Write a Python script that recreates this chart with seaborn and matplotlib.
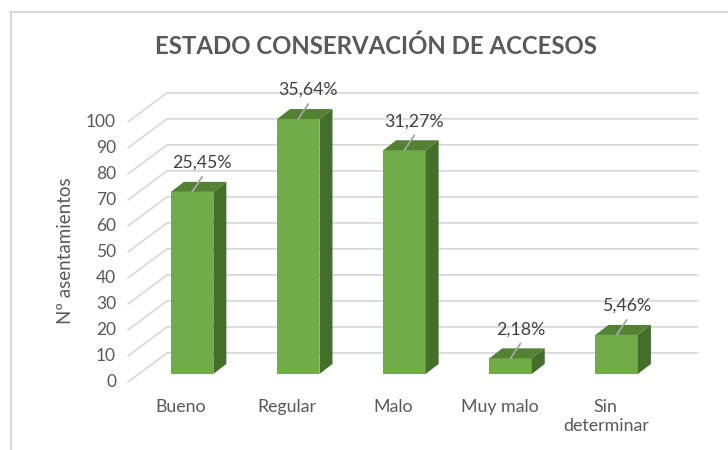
import matplotlib.pyplot as plt
import seaborn as sns
from matplotlib.lines import Line2D
from matplotlib.patches import Polygon

categorias = ['Bueno', 'Regular', 'Malo', 'Muy malo', 'Sin\ndeterminar']
asentamientos = [70, 98, 86, 6, 15]
porcentajes = ['25,45%', '35,64%', '31,27%', '2,18%', '5,46%']
ticks_y = list(range(0, 101, 10))

sns.set_theme(style='white')
plt.rcParams['font.family'] = ['Lato', 'DejaVu Sans']

gris = '#595959'
verde = '#70AD47'
verde_top = '#548235'
verde_lado = '#456E2A'

fig = plt.figure(figsize=(7.28, 4.5), dpi=100)
ax = fig.add_axes([0.191, 0.169, 0.729, 0.578])
sns.barplot(x=categorias, y=asentamientos, color=verde, saturation=1,
            width=0.4, ax=ax, zorder=3, linewidth=0)
ax.set_xlim(-0.5, 4.5)
ax.set_ylim(0, 100)
sns.despine(ax=ax, left=True, bottom=True)
ax.set_xticks([])
ax.set_yticks([])
ax.set_xlabel('')

# pixeles por unidad de datos, para el efecto 3D
sx = ax.transData.transform((1, 0))[0] - ax.transData.transform((0, 0))[0]
sy = ax.transData.transform((0, 1))[1] - ax.transData.transform((0, 0))[1]
frente = (-11 / sx, -8 / sy)
fondo = (28 / sx, 21 / sy)
prof = (13 / sx, 10 / sy)

x0, x1 = ax.get_xlim()
for v in ticks_y:
    ax.plot([x0 + frente[0], x0 + fondo[0], x1 + fondo[0]],
            [v + frente[1], v + fondo[1], v + fondo[1]],
            color='#D9D9D9', lw=1.3, zorder=1, clip_on=False)
    ax.text(x0 + frente[0] - 12 / sx, v + frente[1], str(v), ha='right',
            va='center', fontsize=12.5, color=gris)

for p, pct, cat in zip(ax.patches, porcentajes, categorias):
    xa = p.get_x()
    w = p.get_width()
    h = p.get_height()
    xc = xa + w / 2
    top = Polygon([(xa, h), (xa + w, h), (xa + w + prof[0], h + prof[1]),
                   (xa + prof[0], h + prof[1])], closed=True,
                  facecolor=verde_top, edgecolor='none', zorder=3, clip_on=False)
    lado = Polygon([(xa + w, 0), (xa + w + prof[0], prof[1]),
                    (xa + w + prof[0], h + prof[1]), (xa + w, h)], closed=True,
                   facecolor=verde_lado, edgecolor='none', zorder=3, clip_on=False)
    ax.add_patch(top)
    ax.add_patch(lado)
    ax.plot([xc, xc + 10 / sx], [h, h + 15 / sy], color='#A6A6A6', lw=1.3,
            zorder=4, clip_on=False)
    ax.text(xc + 10 / sx, h + 29 / sy, pct, ha='center', va='center',
            fontsize=12.8, color='#404040')
    ax.text(xc + frente[0], frente[1] - 17 / sy, cat, ha='center', va='top',
            fontsize=12.8, color=gris, linespacing=1.25)

ax.set_ylabel('Nº asentamientos', fontsize=13.5, color=gris)
ax.yaxis.set_label_coords(-0.122, 0.473)

fig.text(376 / 728, 1 - 46 / 450, 'ESTADO CONSERVACIÓN DE ACCESOS',
         ha='center', va='center', fontsize=17.3, fontweight='bold', color=gris)

# marco del grafico
fig.add_artist(Line2D([10 / 728, 1], [1 - 11.5 / 450, 1 - 11.5 / 450],
                      color='#D9D9D9', lw=1.5))
fig.add_artist(Line2D([10.5 / 728, 10.5 / 728], [0, 1 - 11.5 / 450],
                      color='#D9D9D9', lw=1.5))

fig.savefig('out.png', dpi=100)
